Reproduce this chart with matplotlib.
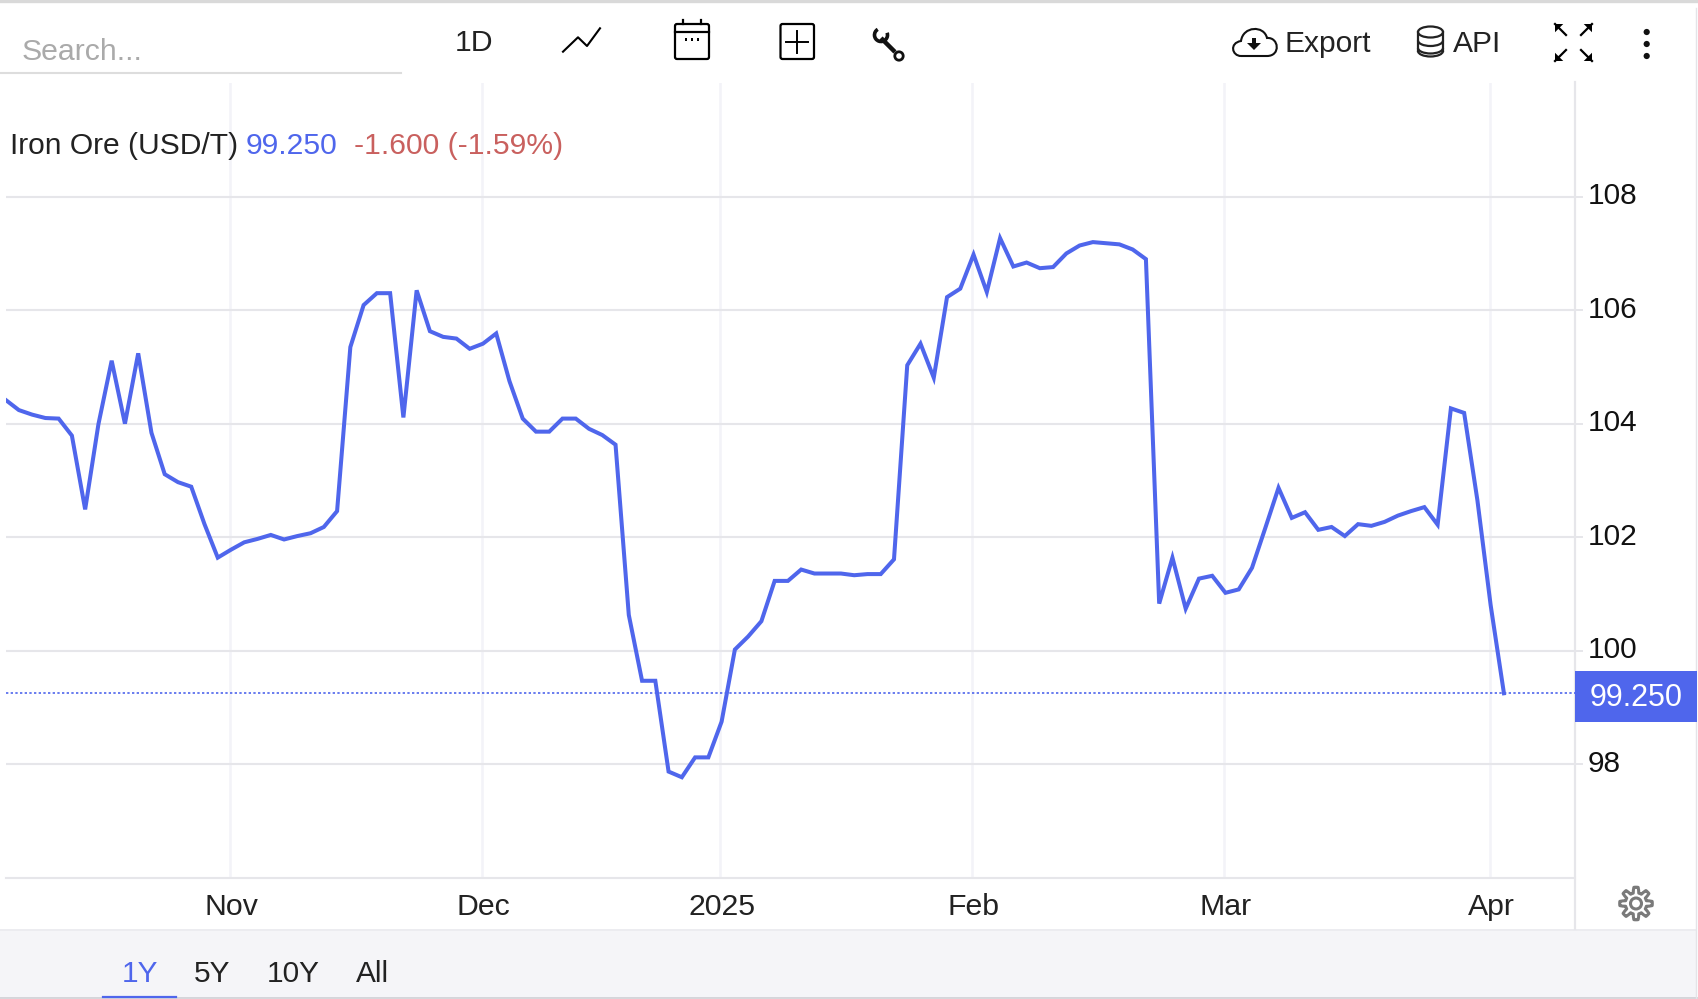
import numpy as np
import matplotlib
matplotlib.use('Agg')
import matplotlib.pyplot as plt
import matplotlib.transforms as mtransforms
from matplotlib.patches import Rectangle, Circle, Ellipse, Arc, PathPatch, Polygon, FancyBboxPatch
from matplotlib.path import Path

plt.rcParams['font.family'] = ['Liberation Sans', 'DejaVu Sans']

prices = [104.42, 104.24, 104.16, 104.10, 104.09, 103.79, 102.49, 103.99, 105.11, 104.00,
          105.24, 103.84, 103.11, 102.97, 102.89, 102.23, 101.64, 101.78, 101.91, 101.97,
          102.04, 101.96, 102.02, 102.07, 102.18, 102.46, 105.35, 106.09, 106.30, 106.30,
          104.11, 106.35, 105.63, 105.53, 105.50, 105.32, 105.41, 105.59, 104.75, 104.09,
          103.86, 103.86, 104.09, 104.09, 103.91, 103.80, 103.63, 100.63, 99.47, 99.47,
          97.87, 97.77, 98.12, 98.12, 98.75, 100.02, 100.25, 100.52, 101.23, 101.23,
          101.43, 101.36, 101.36, 101.36, 101.33, 101.35, 101.35, 101.61, 105.03, 105.41,
          104.81, 106.23, 106.38, 106.98, 106.32, 107.27, 106.77, 106.84, 106.74, 106.76,
          107.00, 107.14, 107.20, 107.18, 107.16, 107.07, 106.90, 100.83, 101.64, 100.74,
          101.27, 101.32, 101.02, 101.08, 101.46, 102.16, 102.87, 102.34, 102.44, 102.13,
          102.18, 102.02, 102.23, 102.20, 102.27, 102.38, 102.46, 102.53, 102.22, 104.27,
          104.19, 102.65, 100.80, 99.25]
month_pos = [16.92, 35.9, 53.88, 72.86, 91.88, 111.95]
month_labels = ['Nov', 'Dec', '2025', 'Feb', 'Mar', 'Apr']
y_ticks = [98, 100, 102, 104, 106, 108]
last_price = 99.25
range_labels = ['1Y', '5Y', '10Y', 'All']

BLUE = '#4f66ec'
GRID = '#e6e6ea'
VGRID = '#f3f3f8'
DARK = '#222222'
W, H = 1698, 999

fig = plt.figure(figsize=(W / 100, H / 100), dpi=100, facecolor='white')

# page furniture, drawn in pixel coordinates
ui = fig.add_axes([0, 0, 1, 1], zorder=0)
ui.set_xlim(0, W)
ui.set_ylim(H, 0)
ui.axis('off')

ui.add_patch(Rectangle((0, 929.5), W - 2, 68, fc='#f5f5f8', ec='none'))
ui.plot([0, W - 2], [929.5, 929.5], color='#ececf0', lw=1.4)
ui.plot([0, W], [998, 998], color='#cfcfd4', lw=1.2)
ui.plot([W - 2, W - 2], [8, 998], color='#e4e4e8', lw=1.0)
ui.plot([0, W], [1, 1], color='#d9d9d9', lw=2.4)
ui.plot([1574.6, 1574.6], [82, 929], color=GRID, lw=1.6)
ui.plot([103, 176], [997, 997], color=BLUE, lw=1.6)

# search box
ui.text(21.5, 51.5, 'Search...', fontsize=21.8, color='#aaaaaa', va='center', ha='left')
ui.plot([1, 401], [72.5, 72.5], color='#dddddd', lw=1.5)

# toolbar
ui.text(474.5, 43, '1D', fontsize=21.8, color=DARK, va='center', ha='center')
ui.plot([563, 578, 587, 600], [51.7, 37.3, 46, 28.3], color='black', lw=1.5)

ui.add_patch(FancyBboxPatch((675, 24), 34, 35, boxstyle='round,pad=0,rounding_size=2',
                            fc='none', ec='black', lw=1.6))
ui.plot([675, 709], [32, 32], color='black', lw=1.6)
ui.plot([683, 683], [20, 24], color='black', lw=1.6)
ui.plot([701, 701], [20, 24], color='black', lw=1.6)
for dx in (686, 692, 698):
    ui.add_patch(Rectangle((dx - 1, 37.5), 2.4, 3, fc='black', ec='none'))

ui.add_patch(FancyBboxPatch((780.5, 24), 33.5, 35, boxstyle='round,pad=0,rounding_size=2',
                            fc='none', ec='black', lw=1.6))
ui.plot([786, 808], [41.5, 41.5], color='black', lw=1.4)
ui.plot([797, 797], [30.5, 52.5], color='black', lw=1.4)

# wrench
ui.plot([881, 895], [38, 52], color='#111111', lw=3.2, solid_capstyle='butt')
ui.add_patch(Arc((881, 35), 13, 13, theta1=-20, theta2=240, color='#111111', lw=2.6))
ui.add_patch(Circle((899, 56), 4.2, fc='white', ec='#111111', lw=2.0))

# export button
cloud = Path([(1241, 56), (1232, 56), (1229, 43), (1241, 41),
              (1243, 26), (1264, 25), (1267, 38),
              (1279, 37), (1281, 56), (1267, 56), (1241, 56)],
             [Path.MOVETO, Path.CURVE4, Path.CURVE4, Path.CURVE4,
              Path.CURVE4, Path.CURVE4, Path.CURVE4,
              Path.CURVE4, Path.CURVE4, Path.CURVE4, Path.LINETO])
ui.add_patch(PathPatch(cloud, fc='white', ec='#111111', lw=1.5))
ui.add_patch(Rectangle((1252, 38), 4, 6, fc='#111111', ec='none'))
ui.add_patch(Polygon([(1247, 43), (1261, 43), (1254, 50)], fc='#111111', ec='none'))
ui.text(1285, 44.5, 'Export', fontsize=21.6, color=DARK, va='center', ha='left')

# api button
for cy in (40.5, 48):
    ui.add_patch(Arc((1430.5, cy), 25, 11, theta1=0, theta2=180, color=DARK, lw=1.6))
ui.add_patch(Arc((1430.5, 51), 25, 11, theta1=0, theta2=180, color=DARK, lw=1.6))
ui.add_patch(Ellipse((1430.5, 32), 25, 11, fc='white', ec=DARK, lw=1.6))
ui.plot([1418, 1418], [32, 51], color=DARK, lw=1.6)
ui.plot([1443, 1443], [32, 51], color=DARK, lw=1.6)
ui.text(1453, 44.5, 'API', fontsize=21.6, color=DARK, va='center', ha='left')

# fullscreen arrows
for sx, ex, sy, ey in [(1555, 1566, 24, 35), (1592, 1581, 24, 35),
                       (1555, 1566, 61, 50), (1592, 1581, 61, 50)]:
    ui.plot([sx, ex], [sy, ey], color='black', lw=1.6)
    ui.add_patch(Polygon([(sx, sy), (sx + (ex - sx) * 0.75, sy), (sx, sy + (ey - sy) * 0.75)],
                         fc='black', ec='none'))

# menu dots
for cy in (32, 44, 56):
    ui.add_patch(Circle((1646.7, cy), 3.1, fc='#111111', ec='none'))

# gear
ang = np.linspace(0, 2 * np.pi, 97)
rad = 13.5 + 2.8 * np.clip(3 * np.cos(8 * ang), -1, 1)
ui.add_patch(Polygon(np.c_[1636 + rad * np.cos(ang), 903.5 + rad * np.sin(ang)],
                     fc='white', ec='#7a7a7a', lw=2.2, joinstyle='round'))
ui.add_patch(Circle((1636, 903.5), 5.5, fc='white', ec='#7a7a7a', lw=2.2))

# range selector
for label, cx, col in zip(range_labels, (140, 212, 293, 372.5), (BLUE, DARK, DARK, DARK)):
    ui.text(cx, 974, label, fontsize=21.5, color=col, va='center', ha='center')

# chart
ax = fig.add_axes([5.6 / W, 1 - 877.7 / H, 1569 / W, 794.5 / H], zorder=1)
ax.patch.set_visible(False)
ax.plot(range(len(prices)), prices, color=BLUE, lw=2.9, solid_joinstyle='miter', zorder=3)
ax.axhline(last_price, color=BLUE, lw=1.2, ls=(0, (1.4, 1.4)), zorder=2)
ax.set_xlim(0, 118.33)
ax.set_ylim(96, 110)

for side in ('top', 'left', 'right'):
    ax.spines[side].set_visible(False)
ax.spines['bottom'].set_color(GRID)
ax.spines['bottom'].set_linewidth(1.5)

ax.yaxis.tick_right()
ax.set_yticks(y_ticks)
ax.set_xticks(month_pos)
ax.set_xticklabels(month_labels)
ax.grid(True, axis='y', color=GRID, lw=1.5, zorder=1)
ax.grid(True, axis='x', color=VGRID, lw=1.8, zorder=1)
ax.set_axisbelow(True)
ax.tick_params(axis='y', length=5.8, width=1.4, color=GRID, pad=3.6, labelsize=21.5, labelcolor='#111111')
ax.tick_params(axis='x', length=0, pad=11.2, labelsize=21.8, labelcolor=DARK)

lift = mtransforms.ScaledTranslation(0, 3.5 / 100, fig.dpi_scale_trans)
for lbl in ax.get_yticklabels():
    lbl.set_transform(lbl.get_transform() + lift)
nudge = mtransforms.ScaledTranslation(1.8 / 100, 0, fig.dpi_scale_trans)
for lbl in ax.get_xticklabels():
    lbl.set_transform(lbl.get_transform() + nudge)

# last price tag
over = fig.add_axes([0, 0, 1, 1], zorder=2)
over.set_xlim(0, W)
over.set_ylim(H, 0)
over.axis('off')
over.add_patch(Rectangle((1575, 670.5), 121.6, 51.7, fc=BLUE, ec='none'))
over.text(1636, 698.5, f'{last_price:.3f}', fontsize=22, color='white', va='center', ha='center')

# header
over.text(9.7, 146.5, 'Iron Ore (USD/T)', fontsize=21.6, color=DARK, va='center', ha='left')
over.text(246, 146.5, f'{last_price:.3f}', fontsize=21.7, color=BLUE, va='center', ha='left')
over.text(354, 146.5, '-1.600 (-1.59%)', fontsize=21.7, color='#c9605e', va='center', ha='left')

fig.savefig('out.png', dpi=100)
